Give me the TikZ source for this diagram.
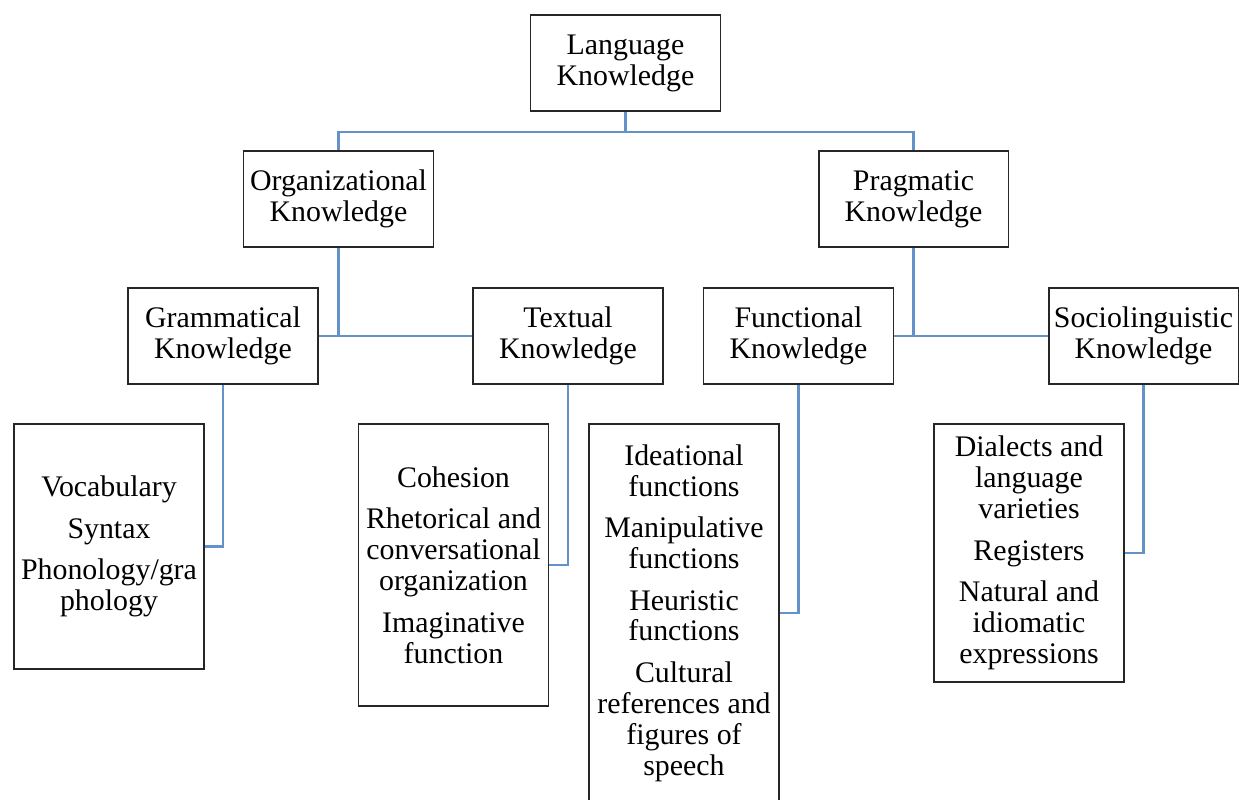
\documentclass[tikz,border=0pt]{standalone}
\usepackage{fontspec}
\setmainfont{Liberation Serif}
\definecolor{linkblue}{RGB}{98,146,200}
\tikzset{
 box/.style={draw=black!85, line width=1.1pt, fill=white, align=center, inner sep=0pt,
  minimum width=3.8cm, minimum height=1.92cm, font=\fontsize{17}{17.6}\selectfont},
 link/.style={line width=1.6pt, linkblue}
}
\begin{document}
\begin{tikzpicture}[x=0.02cm,y=-0.02cm]
\useasboundingbox (0,0) rectangle (1239,800);
 \node[box] at (625.5,63) (lang) {Language\\Knowledge};
 \node[box] at (338.5,199) (org) {Organizational\\Knowledge};
 \node[box] at (913.5,199) (prag) {Pragmatic\\Knowledge};
 \node[box] at (223,336) (gram) {Grammatical\\Knowledge};
 \node[box] at (568,336) (text) {Textual\\Knowledge};
 \node[box] at (798.5,336) (func) {Functional\\Knowledge};
 \node[box] at (1143.5,336) (socio) {Sociolinguistic\\Knowledge};

 \node[box, minimum height=4.9cm] at (109,546.5) (vocab) {Vocabulary\\[6pt]Syntax\\[6pt]Phonology/gra\\phology};
 \node[box, minimum height=5.64cm] at (453.5,565) (cohes) {Cohesion\\[6pt]Rhetorical and\\conversational\\organization\\[6pt]Imaginative\\function};
 \node[box, minimum height=7.56cm] at (684,613) (ideat) {Ideational\\functions\\[6pt]Manipulative\\functions\\[6pt]Heuristic\\functions\\[6pt]Cultural\\references and\\figures of\\speech};
 \node[box, minimum height=5.16cm] at (1029,553) (dial) {Dialects and\\language\\varieties\\[6pt]Registers\\[6pt]Natural and\\idiomatic\\expressions};

 \draw[link] (lang.south) -- ++(0,20) -| (org.north);
 \draw[link] (lang.south) -- ++(0,20) -| (prag.north);
 \draw[link] (org.south) |- (gram.east);
 \draw[link] (org.south) |- (text.west);
 \draw[link] (prag.south) |- (func.east);
 \draw[link] (prag.south) |- (socio.west);
 \draw[link] (gram.south) |- (vocab.east);
 \draw[link] (text.south) |- (cohes.east);
 \draw[link] (func.south) |- (ideat.east);
 \draw[link] (socio.south) |- (dial.east);
\end{tikzpicture}
\end{document}
